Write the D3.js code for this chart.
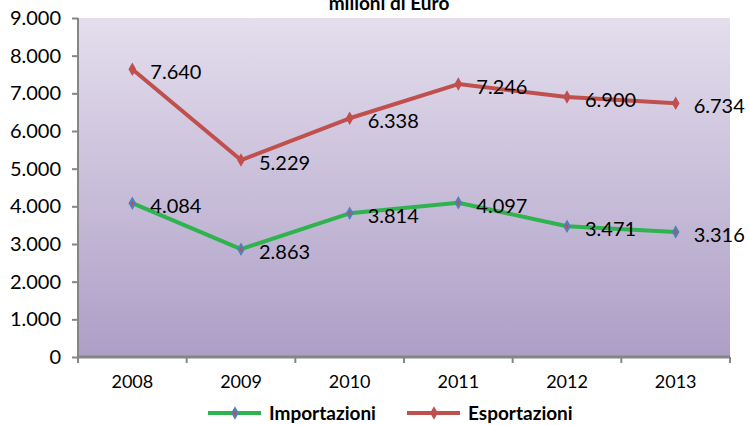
<!DOCTYPE html>
<html><head><meta charset="utf-8">
<script src="https://cdn.jsdelivr.net/npm/d3@7"></script>
<style>body{margin:0;background:#fff;} svg{display:block;}</style>
</head><body>
<svg id="c" width="749" height="425"></svg>
<script>
const years = ["2008","2009","2010","2011","2012","2013"];
const importazioni = [4084, 2863, 3814, 4097, 3471, 3316];
const esportazioni = [7640, 5229, 6338, 7246, 6900, 6734];
const yTicks = [0,1000,2000,3000,4000,5000,6000,7000,8000,9000];
const seriesNames = ["Importazioni","Esportazioni"];
const title = "milioni di Euro";

const svg = d3.select("#c");
const L = 78, R = 730, T = 18, B = 357;
const font = "Lato, 'Open Sans', sans-serif";
const fmt = v => d3.format(",")(v).replace(/,/g, ".");

const x = d3.scaleBand().domain(years).range([L, R]);
const y = d3.scaleLinear().domain([0, 9000]).range([B, T]);

const defs = svg.append("defs");
const g = defs.append("linearGradient").attr("id","bg").attr("x1",0).attr("y1",0).attr("x2",0).attr("y2",1);
g.append("stop").attr("offset","0%").attr("stop-color","#e4deed");
g.append("stop").attr("offset","100%").attr("stop-color","#ad9ec6");
svg.append("rect").attr("x",L).attr("y",T).attr("width",R-L).attr("height",B-T).attr("fill","url(#bg)");

// title (partly above the top edge, as in the reference)
svg.append("text").attr("x",389).attr("y",10).attr("text-anchor","middle")
  .attr("font-family",font).attr("font-weight","bold").attr("font-size",19).attr("fill","#000").text(title);

// y axis
const ya = svg.append("g").attr("transform",`translate(${L},0)`)
  .call(d3.axisLeft(y).tickValues(yTicks).tickFormat(fmt).tickSize(6).tickPadding(11));
ya.select(".domain").attr("stroke","#868686").attr("stroke-width",2).attr("d",`M0,${T}V${B}`);
ya.selectAll(".tick line").attr("stroke","#868686").attr("stroke-width",2);
ya.selectAll(".tick text").attr("font-family",font).attr("font-size",20).attr("fill","#000");

// x axis
const xa = svg.append("g").attr("transform",`translate(0,${B})`)
  .call(d3.axisBottom(x).tickSize(0).tickPadding(18));
xa.select(".domain").attr("stroke","#868686").attr("stroke-width",3).attr("d",`M${L},0H${R}`);
xa.selectAll(".tick text").attr("font-family",font).attr("font-size",18).attr("fill","#000");
const bounds = years.map(d => x(d)).concat([R]);
xa.selectAll("line.bt").data(bounds).enter().append("line").attr("class","bt")
  .attr("x1",d=>d).attr("x2",d=>d).attr("y1",0).attr("y2",6).attr("stroke","#868686").attr("stroke-width",2);

const cx = d => x(d) + x.bandwidth()/2;
const line = d3.line().x((d,i)=>cx(years[i])).y(d=>y(d));
const diamond = d3.symbol().type(d3.symbolDiamond).size(26);

const series = [
  {name: seriesNames[0], vals: importazioni, color:"#2eb34f", mfill:"#c0504d", mstroke:"#4f81bd"},
  {name: seriesNames[1], vals: esportazioni, color:"#c0504d", mfill:"#c0504d", mstroke:"#c0504d"}
];

series.forEach(s => {
  svg.append("path").datum(s.vals).attr("d",line).attr("fill","none")
    .attr("stroke",s.color).attr("stroke-width",4).attr("stroke-linejoin","round");
  svg.selectAll(null).data(s.vals).enter().append("path")
    .attr("d",diamond).attr("transform",(d,i)=>`translate(${cx(years[i])},${y(d)})`)
    .attr("fill",s.mfill).attr("stroke",s.mstroke).attr("stroke-width",2);
  svg.selectAll(null).data(s.vals).enter().append("text")
    .attr("x",(d,i)=>cx(years[i])+18).attr("y",d=>y(d)+3).attr("dy","0.35em")
    .attr("font-family",font).attr("font-size",20).attr("fill","#000").text(fmt);
});

// legend
const leg = [{x:208, s:series[0]},{x:407, s:series[1]}];
leg.forEach(l => {
  const ly = 413;
  svg.append("line").attr("x1",l.x).attr("x2",l.x+53).attr("y1",ly).attr("y2",ly)
    .attr("stroke",l.s.color).attr("stroke-width",4);
  svg.append("path").attr("d",diamond).attr("transform",`translate(${l.x+27},${ly})`)
    .attr("fill",l.s.mfill).attr("stroke",l.s.mstroke).attr("stroke-width",2);
  svg.append("text").attr("x",l.x+61).attr("y",ly).attr("dy","0.38em")
    .attr("font-family",font).attr("font-weight","bold").attr("font-size",19).attr("fill","#000").text(l.s.name);
});
</script>
</body></html>
